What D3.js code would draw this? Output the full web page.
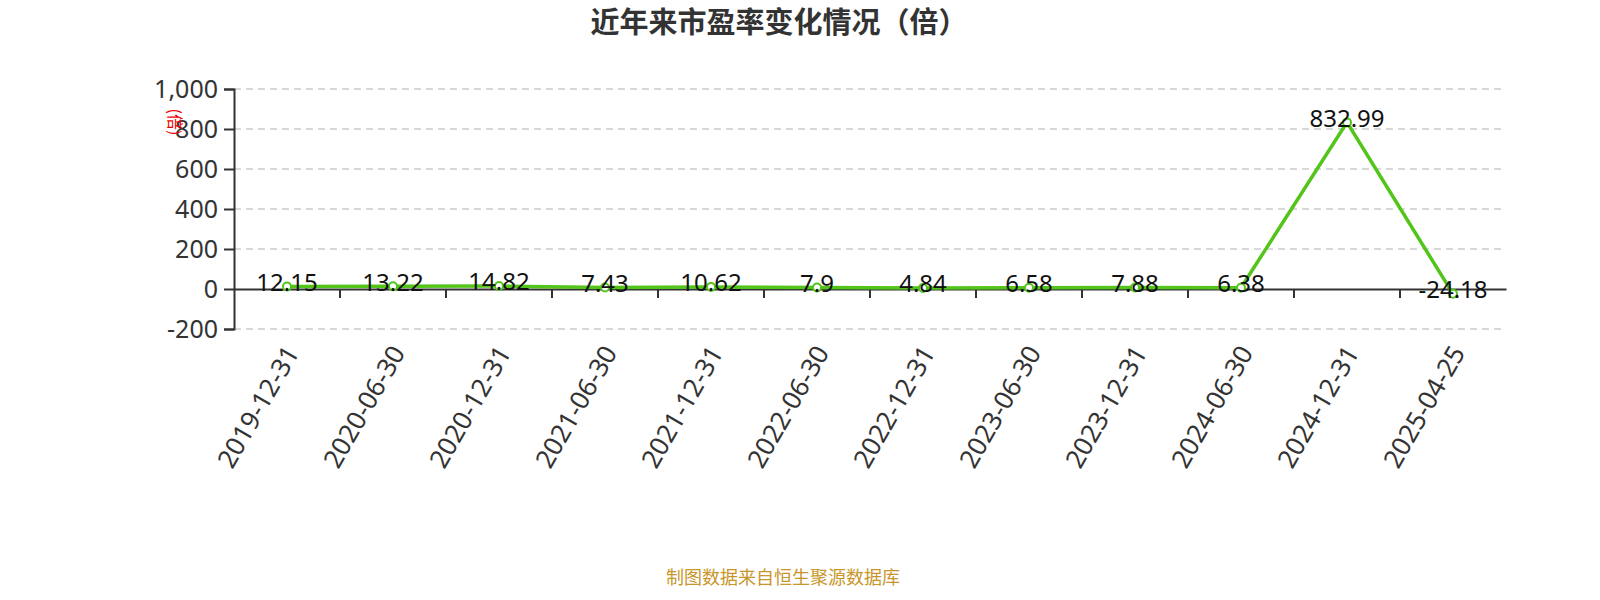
<!DOCTYPE html>
<html><head><meta charset="utf-8">
<script src="https://cdn.jsdelivr.net/npm/d3@7"></script>
<style>body{margin:0;background:#fff;font-family:"Noto Sans CJK SC","Noto Sans",sans-serif;}</style>
</head><body><svg id="c" width="1600" height="600"></svg>
<script>
const categories = ["2019-12-31","2020-06-30","2020-12-31","2021-06-30","2021-12-31","2022-06-30","2022-12-31","2023-06-30","2023-12-31","2024-06-30","2024-12-31","2025-04-25"];
const values = [12.15,13.22,14.82,7.43,10.62,7.9,4.84,6.58,7.88,6.38,832.99,-24.18];
const labels = ["12.15","13.22","14.82","7.43","10.62","7.9","4.84","6.58","7.88","6.38","832.99","-24.18"];
const yTicks = [-200,0,200,400,600,800,1000];
const title = "近年来市盈率变化情况（倍）";
const unit = "(倍)";
const source = "制图数据来自恒生聚源数据库";

const svg = d3.select("#c");
const L=234,R=1506,T=89,B=329;
const x = d3.scaleBand().domain(categories).range([L,R]);
const y = d3.scaleLinear().domain([-200,1000]).range([B,T]);
const fmt = d=>d3.format(",")(d).replace("−","-");
const FF = "Noto Sans, sans-serif";

svg.append("text").attr("x",779).attr("y",33).attr("text-anchor","middle")
  .attr("font-size",29).attr("font-weight","bold").attr("fill","#333").text(title);

// grid
svg.append("g").selectAll("line").data(yTicks.filter(d=>d!==0)).join("line")
  .attr("x1",L).attr("x2",R).attr("y1",d=>y(d)).attr("y2",d=>y(d))
  .attr("stroke","#ccc").attr("stroke-dasharray","7,5").attr("stroke-width",1.5);

// y axis
const ya = svg.append("g").attr("transform",`translate(${L},0)`)
  .call(d3.axisLeft(y).tickValues(yTicks).tickFormat(fmt).tickSize(10).tickPadding(6));
ya.select(".domain").attr("stroke","#333").attr("stroke-width",2);
ya.selectAll(".tick line").attr("stroke","#333").attr("stroke-width",2);
ya.selectAll(".tick text").attr("font-size",25).attr("fill","#333").attr("font-family",FF);

// x axis at 0
const xa = svg.append("g").attr("transform",`translate(0,${y(0)})`)
  .call(d3.axisBottom(x).tickSize(0).tickFormat(""));
xa.select(".domain").attr("stroke","#333").attr("stroke-width",2);
svg.append("g").selectAll("line").data(categories.slice(1)).join("line")
  .attr("x1",d=>x(d)).attr("x2",d=>x(d)).attr("y1",y(0)).attr("y2",y(0)+9)
  .attr("stroke","#333").attr("stroke-width",2);

// x labels rotated
svg.append("g").selectAll("text").data(categories).join("text")
  .attr("transform",d=>`translate(${x(d)+x.bandwidth()/2+7},${B+20}) rotate(-60)`)
  .attr("text-anchor","end").attr("dominant-baseline","middle")
  .attr("font-size",26).attr("fill","#333").attr("font-family",FF).text(d=>d);

// unit label
svg.append("text").attr("transform",`translate(173,122) rotate(90)`)
  .attr("text-anchor","middle").attr("dominant-baseline","middle")
  .attr("font-size",16).attr("fill","#e00").text(unit);

// line
const cx = d=>x(d)+x.bandwidth()/2;
const line = d3.line().x((d,i)=>cx(categories[i])).y(d=>y(d));
svg.append("path").datum(values).attr("d",line).attr("fill","none")
  .attr("stroke","#52c41a").attr("stroke-width",3.5);
svg.append("g").selectAll("circle").data(values).join("circle")
  .attr("cx",(d,i)=>cx(categories[i])).attr("cy",d=>y(d)).attr("r",4)
  .attr("fill","#fff").attr("stroke","#52c41a").attr("stroke-width",2);

// data labels
svg.append("g").selectAll("text").data(values).join("text")
  .attr("x",(d,i)=>cx(categories[i])).attr("y",d=>y(d)-2)
  .attr("text-anchor","middle").attr("dominant-baseline","middle")
  .attr("font-size",24).attr("fill","#111").attr("font-family",FF)
  .text((d,i)=>labels[i]);

svg.append("text").attr("x",783).attr("y",584).attr("text-anchor","middle")
  .attr("font-size",18).attr("fill","#c8962a").text(source);
</script></body></html>
